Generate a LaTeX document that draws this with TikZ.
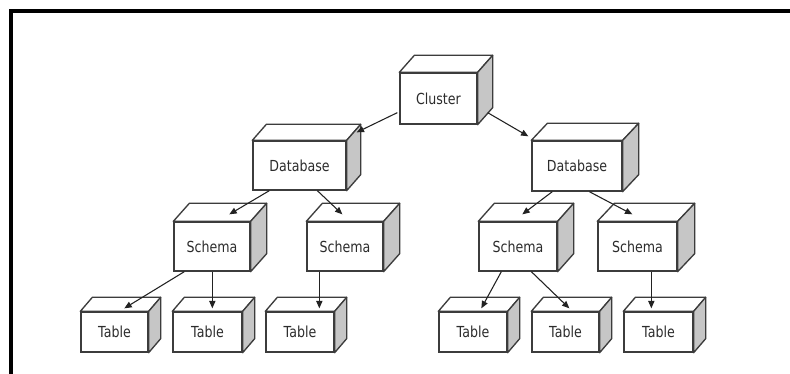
\documentclass[tikz,border=0pt]{standalone}
\usepackage{fontspec}
\setmainfont{DejaVu Sans}[FakeStretch=0.83]
\usetikzlibrary{calc,arrows.meta}
\definecolor{edge}{HTML}{3C3C3C}
\definecolor{sidegray}{HTML}{C6C6C6}
\definecolor{ink}{HTML}{2C2C2C}
\definecolor{arrowink}{HTML}{222222}
\def\u{0.75pt}
\tikzset{
  x=0.75pt, y=-0.75pt,
  box/.style 2 args={draw=edge, fill=white, line width=1pt, inner sep=0pt,
    minimum width={#1*\u}, minimum height={#2*\u},
    text=ink, font=\fontsize{11.4}{13}\selectfont},
  facetop/.style={draw=edge, fill=white, line width=1pt, line join=round},
  faceside/.style={draw=edge, fill=sidegray, line width=1pt, line join=round},
  arr/.style={draw=arrowink, line width=0.8pt, -{Triangle[length=5.5pt,width=4.6pt]}},
  frameline/.style={line width=3pt, draw=black}
}
\begin{document}
\begin{tikzpicture}
\useasboundingbox (0,0) rectangle (790,374);
\fill[white] (0,0) rectangle (790,374);
% outer frame: only the top and left edges
\draw[frameline] (11,374) -- (11,11) -- (790,11);

% front faces
\node[box={77}{51}] (cl)  at (438.5,98.5) {Cluster};
\node[box={93}{49}] (dbl) at (299.5,165.5) {Database};
\node[box={90}{50}] (dbr) at (577,166) {Database};
\node[box={76}{49}] (s1) at (212,246.5) {Schema};
\node[box={76}{49}] (s2) at (345,246.5) {Schema};
\node[box={78}{49}] (s3) at (518,246.5) {Schema};
\node[box={79}{49}] (s4) at (637.5,246.5) {Schema};
\node[box={67}{40}] (t1) at (114.5,332) {Table};
\node[box={69}{40}] (t2) at (207.5,332) {Table};
\node[box={68}{40}] (t3) at (300,332) {Table};
\node[box={68}{40}] (t4) at (473,332) {Table};
\node[box={67}{40}] (t5) at (565.5,332) {Table};
\node[box={69}{40}] (t6) at (658.5,332) {Table};

% top and right faces of each cube
\foreach \n/\dx/\dy in {cl/15/17, dbl/14/16, dbr/16/17,
    s1/16/18, s2/16/18, s3/16/18, s4/17/18,
    t1/12/14, t2/12/14, t3/12/14, t4/12/14, t5/12/14, t6/12/14} {
  \path[facetop] (\n.north west) -- ++(\dx,-\dy)
     -- ($(\n.north east)+(\dx,-\dy)$) -- (\n.north east) -- cycle;
  \path[faceside] (\n.north east) -- ++(\dx,-\dy)
     -- ($(\n.south east)+(\dx,-\dy)$) -- (\n.south east) -- cycle;
}

% connectors
\draw[arr] ($(cl.south west)+(-2,-12)$) -- ($(dbl.north east)+(10,-8)$);
\draw[arr] ($(cl.south east)+(10,-12)$) -- ($(dbr.north west)+(-3,-4)$);
\draw[arr] ($(dbl.south west)+(17,0)$) -- ($(s1.north west)+(56,-7)$);
\draw[arr] ($(dbl.south west)+(65,0)$) -- ($(s2.north west)+(36,-7)$);
\draw[arr] ($(dbr.south west)+(21,0)$) -- ($(s3.north west)+(44,-7)$);
\draw[arr] ($(dbr.south west)+(58,0)$) -- ($(s4.north west)+(35,-7)$);
\draw[arr] ($(s1.south west)+(11,0)$) -- ($(t1.north west)+(44,-3)$);
\draw[arr] ($(s1.south west)+(39,0)$) -- ($(t2.north west)+(40,-3)$);
\draw[arr] ($(s2.south west)+(13,0)$) -- ($(t3.north west)+(54,-3)$);
\draw[arr] ($(s3.south west)+(23,0)$) -- ($(t4.north west)+(43,-3)$);
\draw[arr] ($(s3.south west)+(53,0)$) -- ($(t5.north west)+(38,-3)$);
\draw[arr] ($(s4.south west)+(54,0)$) -- ($(t6.north west)+(28,-3)$);
\end{tikzpicture}
\end{document}
